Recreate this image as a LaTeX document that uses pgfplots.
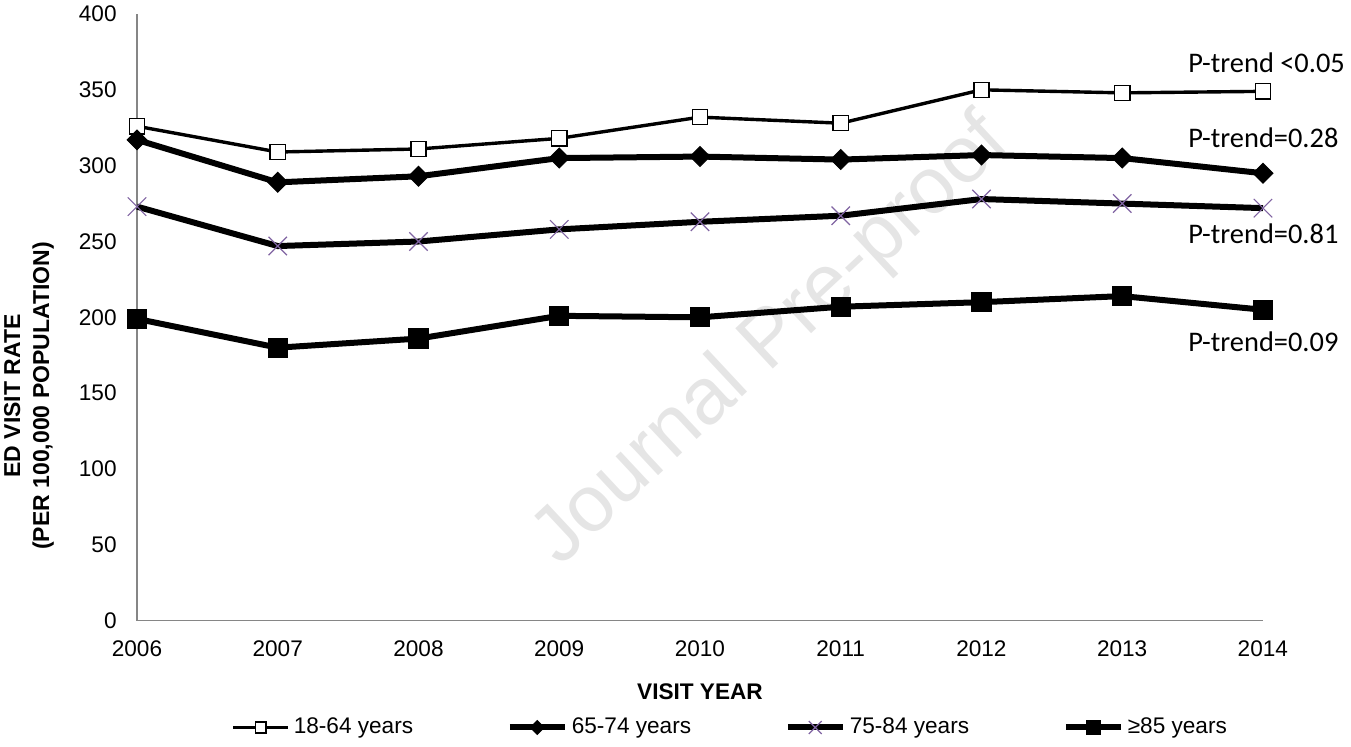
\documentclass[border=0pt]{standalone}
\usepackage{pgfplots}
\pgfplotsset{compat=1.18}
\usepackage{fontspec}
\setmainfont{Liberation Sans}
\newfontfamily\calibri{Carlito}
\definecolor{axgray}{HTML}{868686}
\definecolor{purp}{HTML}{8064A2}
\newcommand{\lf}{\fontsize{11.3pt}{13.5pt}\selectfont}

\begin{document}
\begin{tikzpicture}
\useasboundingbox (-68.5pt,-63.15pt) rectangle (607pt,310.35pt);
% watermark
\node[rotate=43, text=black!10, font=\fontsize{40pt}{44pt}\selectfont, inner sep=0pt] at (317.5pt,139.5pt) {Journal Pre-proof};

\begin{axis}[
  scale only axis,
  width=563pt, height=303.35pt,
  xmin=2006, xmax=2014, ymin=0, ymax=400,
  axis x line*=bottom, axis y line*=left,
  axis line style={axgray, line width=0.6pt, -},
  xtick={2006,2007,...,2014}, ytick={0,50,...,400},
  major tick length=0pt,
  /pgf/number format/assume math mode=true,
  tick label style={font=\lf, inner sep=0pt},
  x tick label style={/pgf/number format/1000 sep={}, anchor=north, yshift=-9.7pt},
  y tick label style={anchor=east, xshift=-10pt},
  clip=false,
  legend columns=4,
  legend style={at={(axis description cs:0,0)}, anchor=west, xshift=47pt, yshift=-53.4pt,
    draw=none, fill=none, inner sep=0pt, font=\lf, column sep=0pt},
  legend image code/.code={\begin{scope}[#1]
      \draw[mark=none] (0pt,0pt) -- (27.5pt,0pt);
      \draw[mark size=0.7*\pgfplotmarksize] plot coordinates {(13.75pt,0pt)};
    \end{scope}},
]
\addplot[black, line width=1.7pt, mark=square*, mark size=3.8pt, mark options={fill=white, line width=0.7pt}]
coordinates {(2006,326) (2007,309) (2008,311) (2009,318) (2010,332) (2011,328) (2012,350) (2013,348) (2014,349)};
\addlegendentry{\makebox[104.5pt][l]{18-64 years}}
\addplot[black, line width=3pt, mark=square*, mark size=3.5pt, mark options={rotate=45, line width=0.5pt}]
coordinates {(2006,317) (2007,289) (2008,293) (2009,305) (2010,306) (2011,304) (2012,307) (2013,305) (2014,295)};
\addlegendentry{\makebox[104.5pt][l]{65-74 years}}
\addplot[black, line width=3pt, mark=x, mark size=6.5pt, mark options={purp, line width=0.6pt}]
coordinates {(2006,273) (2007,247) (2008,250) (2009,258) (2010,263) (2011,267) (2012,278) (2013,275) (2014,272)};
\addlegendentry{\makebox[104.5pt][l]{75-84 years}}
\addplot[black, line width=3pt, mark=square*, mark size=4.8pt, mark options={line width=0.5pt}]
coordinates {(2006,199) (2007,180) (2008,186) (2009,201) (2010,200) (2011,207) (2012,210) (2013,214) (2014,205)};
\addlegendentry{≥85 years}

\node[anchor=base west, inner sep=0pt, font=\calibri\fontsize{14.2pt}{16pt}\selectfont] at (axis cs:2013.467,361.6) {P-trend <0.05};
\node[anchor=base west, inner sep=0pt, font=\calibri\fontsize{14.2pt}{16pt}\selectfont] at (axis cs:2013.467,311.7) {P-trend=0.28};
\node[anchor=base west, inner sep=0pt, font=\calibri\fontsize{14.2pt}{16pt}\selectfont] at (axis cs:2013.467,248.4) {P-trend=0.81};
\node[anchor=base west, inner sep=0pt, font=\calibri\fontsize{14.2pt}{16pt}\selectfont] at (axis cs:2013.467,177.3) {P-trend=0.09};
\end{axis}

\node[font=\bfseries\lf, inner sep=0pt] at (281.5pt,-35.4pt) {VISIT YEAR};
\node[rotate=90, align=center, inner sep=0pt, font=\bfseries\fontsize{11.5pt}{14.5pt}\selectfont] at (-54pt,112.4pt) {ED VISIT RATE\\(PER 100,000 POPULATION)};
\end{tikzpicture}
\end{document}
